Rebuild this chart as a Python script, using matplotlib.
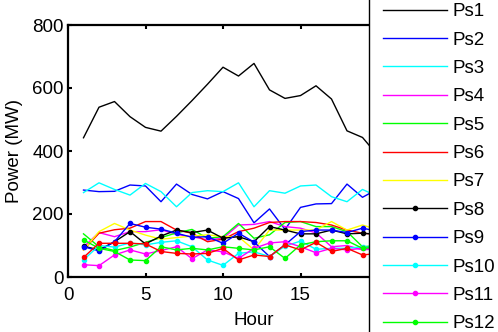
import matplotlib
matplotlib.use('Agg')
import matplotlib.pyplot as plt

plt.rcParams['font.family'] = ['Liberation Sans', 'DejaVu Sans']

hours = list(range(1, 21))

ps1 = [442, 539, 557, 509, 475, 463, 510, 560, 612, 666, 638, 678, 594, 567, 576, 607, 565, 464, 443, 385]
ps2 = [276, 271, 272, 292, 289, 239, 295, 262, 248, 271, 249, 172, 216, 151, 221, 232, 233, 295, 253, 280]
ps3 = [268, 299, 278, 260, 297, 271, 223, 268, 274, 271, 299, 223, 274, 266, 289, 292, 255, 239, 278, 255]
ps4 = [95, 141, 128, 144, 144, 150, 135, 128, 118, 123, 165, 167, 176, 160, 155, 140, 96, 100, 86, 90]
ps5 = [137, 96, 84, 95, 110, 125, 140, 151, 123, 128, 170, 123, 134, 173, 176, 160, 160, 144, 96, 100]
ps6 = [86, 139, 150, 155, 176, 176, 149, 139, 112, 120, 144, 155, 173, 176, 176, 173, 165, 149, 139, 135]
ps7 = [86, 144, 170, 149, 133, 120, 125, 130, 134, 128, 128, 86, 149, 149, 149, 149, 176, 149, 165, 150]
ps8 = [98, 86, 112, 144, 105, 130, 149, 141, 149, 123, 128, 112, 160, 149, 137, 137, 149, 137, 139, 135]
ps9 = [96, 83, 112, 170, 158, 152, 139, 126, 128, 107, 139, 111, 65, 102, 144, 149, 149, 141, 155, 145]
ps10 = [54, 100, 95, 108, 102, 110, 115, 96, 54, 37, 75, 80, 65, 98, 114, 88, 91, 91, 96, 92]
ps11 = [39, 36, 70, 86, 73, 84, 96, 58, 86, 80, 59, 91, 108, 112, 96, 77, 91, 86, 91, 88]
ps12 = [118, 91, 81, 54, 52, 96, 86, 91, 86, 96, 91, 86, 96, 59, 102, 112, 115, 115, 91, 95]
# extra red dotted series seen in the plot (its legend entry is cut off in the original)
ps13 = [62, 107, 107, 107, 105, 81, 75, 73, 75, 91, 54, 70, 65, 102, 86, 110, 81, 91, 70, 75]

series = [
    ('Ps1', ps1, 'k', None),
    ('Ps2', ps2, '#0000ff', None),
    ('Ps3', ps3, '#00ffff', None),
    ('Ps4', ps4, '#ff00ff', None),
    ('Ps5', ps5, '#00ff00', None),
    ('Ps6', ps6, '#ff0000', None),
    ('Ps7', ps7, '#ffff00', None),
    ('Ps8', ps8, 'k', '.'),
    ('Ps9', ps9, '#0000ff', '.'),
    ('Ps10', ps10, '#00ffff', '.'),
    ('Ps11', ps11, '#ff00ff', '.'),
    ('Ps12', ps12, '#00ff00', '.'),
    ('_nolegend_', ps13, '#ff0000', '.'),
]

fig = plt.figure(figsize=(4.98, 3.32), dpi=100)
ax = fig.add_axes([68 / 498, 1 - 277 / 332, 372 / 498, 252 / 332])

for name, vals, col, mk in series:
    ax.plot(hours, vals, color=col, marker=mk, markersize=6, linewidth=1, label=name)

ax.set_xlim(0, 24)
ax.set_ylim(0, 800)
ax.set_xticks([0, 5, 10, 15, 20])
ax.set_yticks([0, 200, 400, 600, 800])
ax.tick_params(direction='in', top=True, right=True, labelsize=13.5, length=3, width=1.5)
ax.tick_params(axis='x', pad=7)
ax.tick_params(axis='y', pad=3)
for s in ax.spines.values():
    s.set_linewidth(1.6)
ax.set_xlabel('Hour', fontsize=13.5, labelpad=6)
ax.set_ylabel('Power (MW)', fontsize=13.5, labelpad=7)

leg = fig.legend(loc='upper left', bbox_to_anchor=(369 / 498, 1 + 11 / 332), bbox_transform=fig.transFigure,
                 fontsize=13.5, frameon=True, fancybox=False, edgecolor='k', framealpha=1,
                 handlelength=3.4, handletextpad=0.32, labelspacing=0.6, borderpad=0.75,
                 borderaxespad=0)
leg.get_frame().set_linewidth(1.0)

fig.savefig('out.png', dpi=100)
